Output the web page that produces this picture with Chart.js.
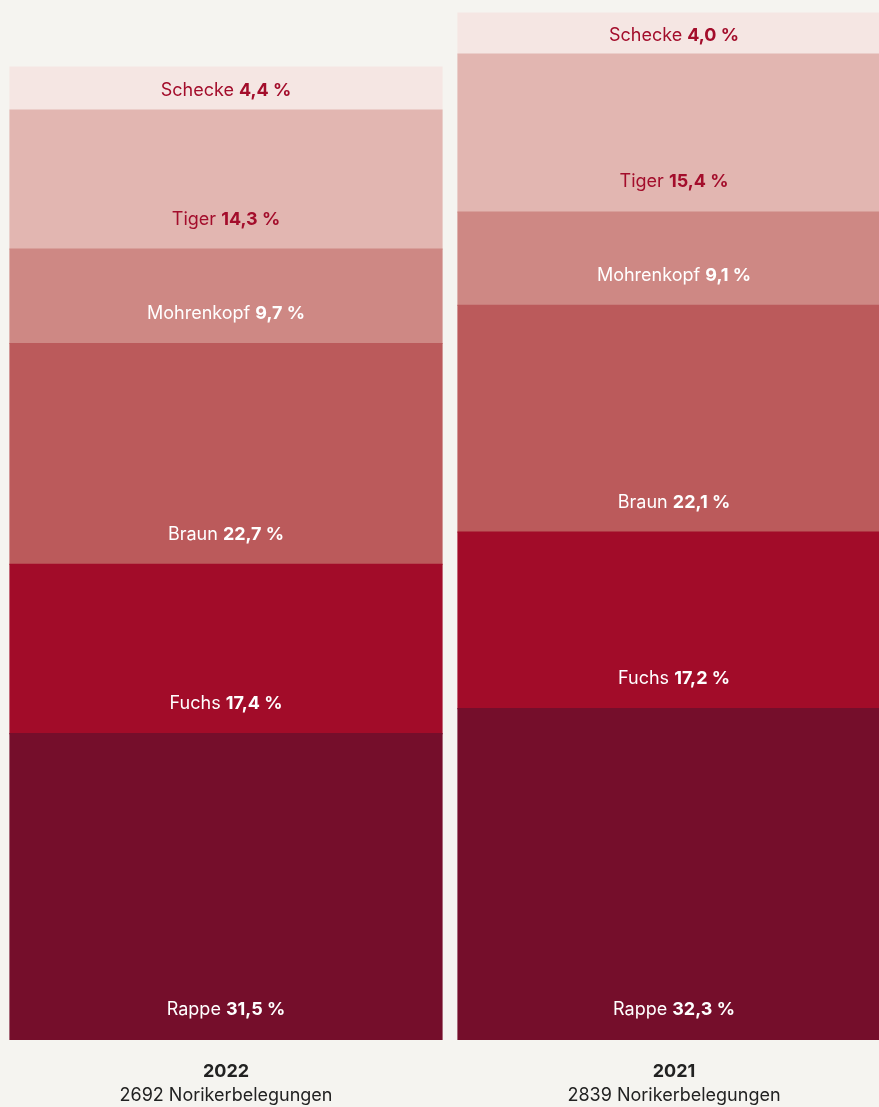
<!DOCTYPE html>
<html lang="de">
<head>
<meta charset="utf-8">
<title>Norikerbelegungen nach Farbe</title>
<script src="https://cdn.jsdelivr.net/npm/chart.js@4.4.0/dist/chart.umd.min.js"></script>
<style>
  html, body { margin: 0; padding: 0; background: #f5f4f0; }
  .frame { width: 879px; height: 1107px; overflow: hidden; }
  .chart-box { width: 900px; height: 1107px; position: relative; }
</style>
</head>
<body>
<div class="frame">
  <div class="chart-box"><canvas id="chart"></canvas></div>
</div>
<script>
// ===== Data =====
const years      = ['2022', '2021'];
const totals     = [2692, 2839];
const categories = ['Rappe', 'Fuchs', 'Braun', 'Mohrenkopf', 'Tiger', 'Schecke'];
const share2022  = [31.5, 17.4, 22.7, 9.7, 14.3, 4.4];
const share2021  = [32.3, 17.2, 22.1, 9.1, 15.4, 4.0];

// ===== Styles =====
const FILLS      = ['#750e2b', '#a20c29', '#bb5a5b', '#ce8884', '#e2b6b1', '#f5e6e3'];
const TEXT_DARK  = '#a30d2b';
const FONT       = 'Inter, "Noto Sans", sans-serif';
const FONT_SIZE  = 18;

const shares = [share2022, share2021];

// one stacked dataset per colour, bar height = share of that year's total
const datasets = categories.map((name, i) => ({
  label: name,
  data: years.map((_, y) => shares[y][i] * totals[y] / 100),
  share: years.map((_, y) => shares[y][i]),
  backgroundColor: FILLS[i],
  borderWidth: 0,
  inflateAmount: 0.6,
  barPercentage: 0.9643,
  categoryPercentage: 1,
}));

function fmtPct(v) {
  return v.toFixed(1).replace('.', ',') + ' %';
}

// segment labels: name regular, value bold
const segmentLabels = {
  id: 'segmentLabels',
  afterDatasetsDraw(chart) {
    const ctx = chart.ctx;
    ctx.save();
    ctx.textBaseline = 'middle';
    chart.data.datasets.forEach((ds, di) => {
      const meta = chart.getDatasetMeta(di);
      meta.data.forEach((bar, j) => {
        const top = bar.y, bottom = bar.base;
        // small segments get centred text, tall ones sit near the bottom
        const y = Math.max((top + bottom) / 2 + 2, bottom - 30);
        const name = ds.label + ' ';
        const val  = fmtPct(ds.share[j]);
        ctx.font = `400 ${FONT_SIZE}px ${FONT}`;
        const w1 = ctx.measureText(name).width;
        ctx.font = `700 ${FONT_SIZE}px ${FONT}`;
        const w2 = ctx.measureText(val).width;
        const x0 = bar.x - (w1 + w2) / 2;
        ctx.fillStyle = di >= 4 ? TEXT_DARK : '#ffffff';
        ctx.textAlign = 'left';
        ctx.font = `400 ${FONT_SIZE}px ${FONT}`;
        ctx.fillText(name, x0, y);
        ctx.font = `700 ${FONT_SIZE}px ${FONT}`;
        ctx.fillText(val, x0 + w1, y);
      });
    });
    ctx.restore();
  }
};

// year and total under each bar
const yearLabels = {
  id: 'yearLabels',
  afterDraw(chart) {
    const ctx = chart.ctx;
    const xs = chart.scales.x;
    ctx.save();
    ctx.textAlign = 'center';
    ctx.textBaseline = 'middle';
    ctx.fillStyle = '#222222';
    years.forEach((yr, i) => {
      const x = xs.getPixelForValue(i);
      ctx.font = `700 ${FONT_SIZE}px ${FONT}`;
      ctx.fillText(yr, x, 1072);
      ctx.font = `400 ${FONT_SIZE}px ${FONT}`;
      ctx.fillText(totals[i] + ' Norikerbelegungen', x, 1096);
    });
    ctx.restore();
  }
};

new Chart(document.getElementById('chart'), {
  type: 'bar',
  data: { labels: years, datasets },
  options: {
    responsive: true,
    maintainAspectRatio: false,
    animation: false,
    layout: { padding: { left: 2, right: 2, top: 0, bottom: 67 } },
    plugins: {
      legend: { display: false },
      tooltip: { enabled: false },
    },
    scales: {
      x: { stacked: true, display: false },
      y: { stacked: true, display: false, min: 0, max: 2878 },
    },
  },
  plugins: [segmentLabels, yearLabels],
});
</script>
</body>
</html>
